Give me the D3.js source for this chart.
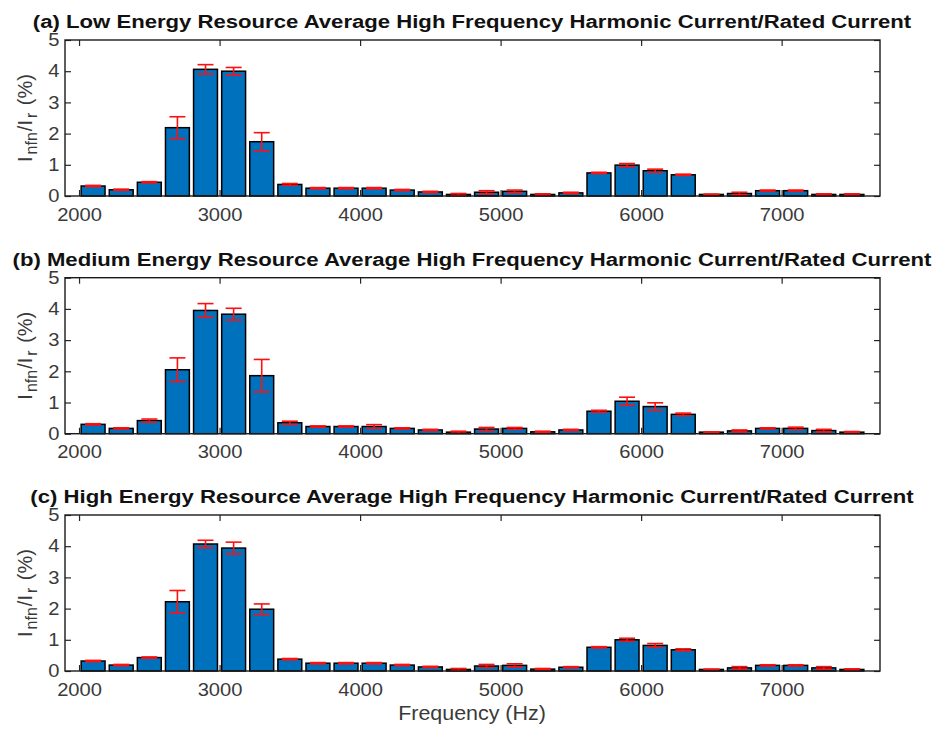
<!DOCTYPE html>
<html lang="en">
  <head>
    <meta charset="utf-8">
    <title>High frequency harmonic current / rated current</title>
    <script src="https://cdnjs.cloudflare.com/ajax/libs/d3/7.8.5/d3.min.js"></script>
    <style type="text/css">
      body { margin: 0; background: #fff; }
      text { font-family: "Liberation Sans", Arial, sans-serif; }
    </style>
  </head>
  <body>
    <script type="text/javascript">
    // chart data
    var freqs = [2100, 2300, 2500, 2700, 2900, 3100, 3300, 3500, 3700, 3900, 4100, 4300, 4500, 4700,
                 4900, 5100, 5300, 5500, 5700, 5900, 6100, 6300, 6500, 6700, 6900, 7100, 7300, 7500];

    var lowMean = [0.32, 0.20, 0.44, 2.19, 4.06, 4.00, 1.74, 0.37, 0.25, 0.25, 0.25, 0.19, 0.13, 0.05,
                   0.12, 0.15, 0.05, 0.10, 0.74, 0.99, 0.81, 0.68, 0.05, 0.08, 0.17, 0.17, 0.05, 0.05];
    var lowErr = [0.02, 0.02, 0.02, 0.35, 0.15, 0.12, 0.29, 0.03, 0.02, 0.02, 0.02, 0.02, 0.02, 0.03,
                  0.05, 0.04, 0.02, 0.02, 0.02, 0.05, 0.05, 0.02, 0.01, 0.04, 0.02, 0.02, 0.02, 0.02];

    var medMean = [0.30, 0.17, 0.42, 2.05, 3.95, 3.83, 1.86, 0.35, 0.23, 0.23, 0.23, 0.17, 0.12, 0.05,
                   0.15, 0.17, 0.06, 0.12, 0.72, 1.04, 0.87, 0.62, 0.05, 0.09, 0.17, 0.17, 0.10, 0.05];
    var medErr = [0.02, 0.02, 0.05, 0.38, 0.22, 0.19, 0.52, 0.05, 0.02, 0.02, 0.06, 0.02, 0.02, 0.03,
                  0.05, 0.03, 0.02, 0.02, 0.03, 0.13, 0.12, 0.04, 0.01, 0.03, 0.02, 0.04, 0.04, 0.02];

    var highMean = [0.32, 0.19, 0.43, 2.22, 4.07, 3.94, 1.98, 0.38, 0.25, 0.25, 0.25, 0.19, 0.13, 0.05,
                    0.16, 0.18, 0.06, 0.12, 0.76, 1.00, 0.82, 0.68, 0.05, 0.10, 0.18, 0.18, 0.10, 0.05];
    var highErr = [0.02, 0.02, 0.02, 0.36, 0.12, 0.19, 0.17, 0.02, 0.02, 0.02, 0.02, 0.02, 0.02, 0.03,
                   0.05, 0.05, 0.02, 0.02, 0.02, 0.05, 0.06, 0.03, 0.01, 0.04, 0.02, 0.02, 0.04, 0.02];

    var titles = [
      "(a) Low Energy Resource Average High Frequency Harmonic Current/Rated Current",
      "(b) Medium Energy Resource Average High Frequency Harmonic Current/Rated Current",
      "(c) High Energy Resource Average High Frequency Harmonic Current/Rated Current"
    ];
    var xTicks = [2000, 3000, 4000, 5000, 6000, 7000];
    var yTicks = [0, 1, 2, 3, 4, 5];
    var xLabel = "Frequency (Hz)";

    //Width and height
    var w = 935;
    var h = 729;
    var left = 65, right = 880;
    var panelTops = [40, 277.7, 515];
    var panelH = 156;
    var stretch = 1.12; // the source figure text is a bit wider than tall

    var panels = [
      { title: titles[0], mean: lowMean, err: lowErr },
      { title: titles[1], mean: medMean, err: medErr },
      { title: titles[2], mean: highMean, err: highErr }
    ];

    var svg = d3.select("body")
      .append("svg")
      .attr("width", w)
      .attr("height", h);

    var x = d3.scaleLinear().domain([1900, 7700]).range([left, right]);
    var barW = 0.85 * (x(2300) - x(2100));
    var capW = 16;

    panels.forEach(function(p, k) {
      var top = panelTops[k];
      var y = d3.scaleLinear().domain([0, 5]).range([top + panelH, top]);
      var rows = freqs.map(function(f, i) {
        return { f: f, m: p.mean[i], e: p.err[i] };
      });

      var g = svg.append("g");

      // bars
      g.selectAll("rect.bar")
        .data(rows)
        .enter()
        .append("rect")
        .attr("class", "bar")
        .attr("x", function(d) { return x(d.f) - barW / 2; })
        .attr("y", function(d) { return y(d.m); })
        .attr("width", barW)
        .attr("height", function(d) { return y(0) - y(d.m); })
        .attr("fill", "#0072BD")
        .attr("stroke", "#000")
        .attr("stroke-width", 1.5);

      // error bars
      var eb = g.selectAll("g.err")
        .data(rows)
        .enter()
        .append("g")
        .attr("class", "err")
        .attr("stroke", "#ff1010")
        .attr("stroke-width", 1.6);
      eb.append("line")
        .attr("x1", function(d) { return x(d.f); })
        .attr("x2", function(d) { return x(d.f); })
        .attr("y1", function(d) { return y(d.m - d.e); })
        .attr("y2", function(d) { return y(d.m + d.e); });
      eb.append("line")
        .attr("x1", function(d) { return x(d.f) - capW / 2; })
        .attr("x2", function(d) { return x(d.f) + capW / 2; })
        .attr("y1", function(d) { return y(d.m + d.e); })
        .attr("y2", function(d) { return y(d.m + d.e); });
      eb.append("line")
        .attr("x1", function(d) { return x(d.f) - capW / 2; })
        .attr("x2", function(d) { return x(d.f) + capW / 2; })
        .attr("y1", function(d) { return y(d.m - d.e); })
        .attr("y2", function(d) { return y(d.m - d.e); });

      // axes, ticks pointing inward
      g.append("g")
        .attr("transform", "translate(0," + (top + panelH) + ")")
        .call(d3.axisBottom(x).tickValues(xTicks).tickFormat(d3.format("d"))
          .tickSizeInner(-6).tickSizeOuter(0).tickPadding(12));
      g.append("g")
        .attr("transform", "translate(0," + top + ")")
        .call(d3.axisTop(x).tickValues(xTicks).tickSizeInner(-6).tickSizeOuter(0).tickFormat(""));
      g.append("g")
        .attr("transform", "translate(" + left + ",0)")
        .call(d3.axisLeft(y).tickValues(yTicks).tickFormat(d3.format("d"))
          .tickSizeInner(-6).tickSizeOuter(0).tickPadding(5));
      g.append("g")
        .attr("transform", "translate(" + right + ",0)")
        .call(d3.axisRight(y).tickValues(yTicks).tickSizeInner(-6).tickSizeOuter(0).tickFormat(""));

      g.selectAll(".domain").remove();
      g.selectAll(".tick line").attr("stroke", "#262626").attr("stroke-width", 1.2);
      g.selectAll(".tick text")
        .attr("fill", "#3a3a3a")
        .attr("font-size", "18px")
        .attr("font-family", "Liberation Sans, Arial, sans-serif")
        .attr("transform", "scale(" + stretch + ",1)");

      // axes box
      g.append("rect")
        .attr("x", left)
        .attr("y", top)
        .attr("width", right - left)
        .attr("height", panelH)
        .attr("fill", "none")
        .attr("stroke", "#1a1a1a")
        .attr("stroke-width", 1.4);

      // title
      g.append("text")
        .attr("transform", "translate(472," + (top - 12) + ") scale(1.23,1)")
        .attr("text-anchor", "middle")
        .attr("font-weight", "bold")
        .attr("font-size", "18px")
        .attr("fill", "#111")
        .text(p.title);

      // y label: I_nfn / I_r (%)
      var yl = g.append("text")
        .attr("transform", "translate(32," + (top + panelH / 2) + ") rotate(-90)")
        .attr("text-anchor", "middle")
        .attr("font-size", "20px")
        .attr("fill", "#3a3a3a");
      yl.append("tspan").text("I");
      yl.append("tspan").attr("dx", 2).attr("dy", 5).attr("font-size", "16px").text("nfn");
      yl.append("tspan").attr("dx", 1).attr("dy", -5).text("/I");
      yl.append("tspan").attr("dx", 2).attr("dy", 5).attr("font-size", "16px").text("r");
      yl.append("tspan").attr("dx", 2).attr("dy", -5).text(" (%)");
    });

    svg.append("text")
      .attr("transform", "translate(472,720) scale(1.1,1)")
      .attr("text-anchor", "middle")
      .attr("font-size", "19.5px")
      .attr("fill", "#3a3a3a")
      .text(xLabel);
    </script>
  </body>
</html>
